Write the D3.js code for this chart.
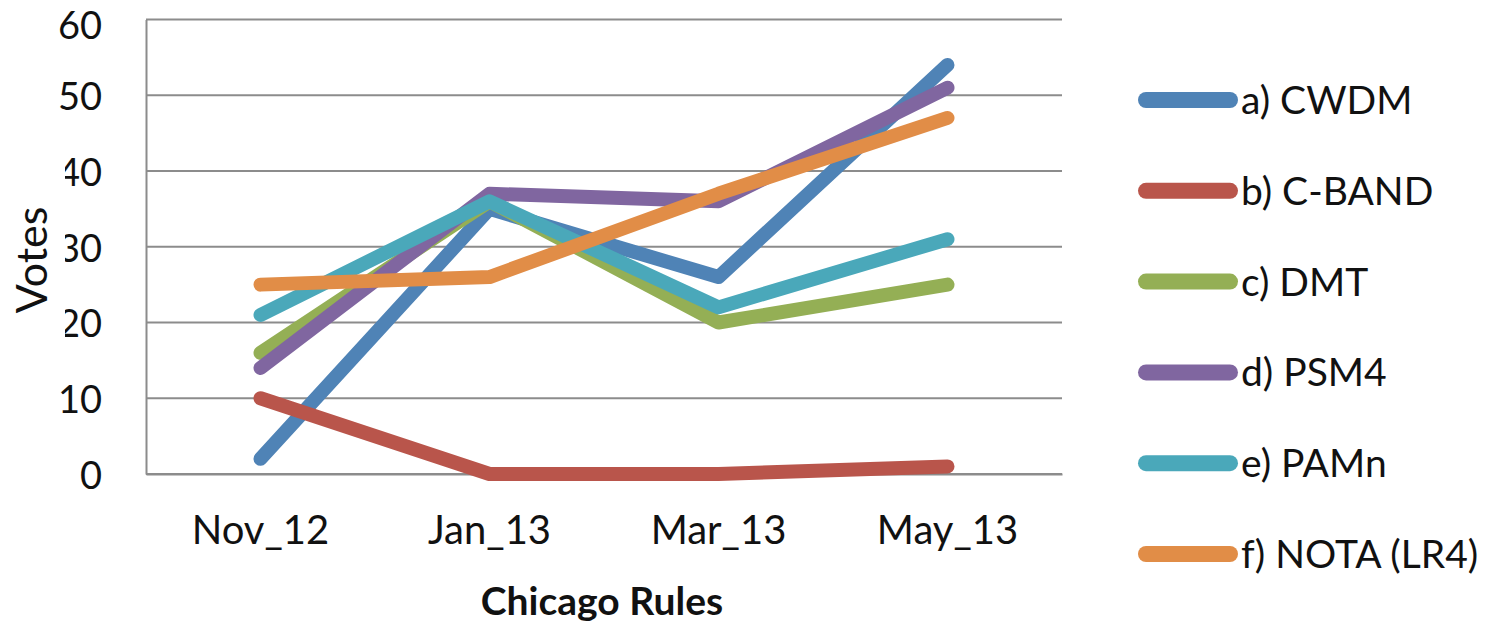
<!DOCTYPE html>
<html><head><meta charset="utf-8">
<script src="https://cdn.jsdelivr.net/npm/d3@7"></script>
<style>html,body{margin:0;padding:0;background:#fff;overflow:hidden}</style>
</head><body>
<svg id="chart" width="1494" height="627"></svg>
<script>
const categories = ["Nov_12", "Jan_13", "Mar_13", "May_13"];
const seriesNames = ["a) CWDM", "b) C-BAND", "c) DMT", "d) PSM4", "e) PAMn", "f) NOTA (LR4)"];
const cwdm  = [2, 35, 26, 54];
const cband = [10, 0, 0, 1];
const dmt   = [16, 36, 20, 25];
const psm4  = [14, 37, 36, 51];
const pamn  = [21, 36, 22, 31];
const nota  = [25, 26, 37, 47];
const yTicks = [0, 10, 20, 30, 40, 50, 60];
const colors = ["#4F83B6", "#B9554B", "#94AF55", "#8066A0", "#4AA8BA", "#E18D47"];
const seriesValues = [cwdm, cband, dmt, psm4, pamn, nota];

const font = "Lato, 'Open Sans', sans-serif";
const svg = d3.select("#chart");
const L = 146, R = 1062, T = 19.5, B = 474;

const x = d3.scaleBand().domain(categories).range([L, R]);
const y = d3.scaleLinear().domain([0, 60]).range([B, T]);

// gridlines
svg.append("g").selectAll("line").data(yTicks).join("line")
  .attr("x1", L).attr("x2", R)
  .attr("y1", d => y(d)).attr("y2", d => y(d))
  .attr("stroke", "#8c8c8c").attr("stroke-width", 2);

// y axis
const yAxis = svg.append("g").attr("transform", `translate(${L},0)`)
  .call(d3.axisLeft(y).tickValues(yTicks).tickSize(0).tickPadding(44));
yAxis.select(".domain").attr("stroke", "#8c8c8c").attr("stroke-width", 2);
yAxis.selectAll("text").attr("font-family", font).attr("font-size", 38).attr("fill", "#111")
  .attr("dy", d => d === 60 ? "0.5em" : "0.38em");

// x axis
const xAxis = svg.append("g").attr("transform", `translate(0,${B})`)
  .call(d3.axisBottom(x).tickSize(0).tickPadding(50));
xAxis.select(".domain").attr("stroke", "#8c8c8c").attr("stroke-width", 2);
xAxis.selectAll("text").attr("font-family", font).attr("font-size", 40).attr("fill", "#111")
  .attr("dy", "0.5em");

// white box of the y title covering part of tick labels
svg.append("rect").attr("x", 0).attr("y", 150).attr("width", 65).attr("height", 195).attr("fill", "#fff");
svg.append("text").attr("transform", `translate(47,260) rotate(-90)`)
  .attr("text-anchor", "middle").attr("font-family", font).attr("font-size", 43).attr("fill", "#111")
  .text("Votes");

svg.append("text").attr("x", (L + R) / 2 - 2).attr("y", 615)
  .attr("text-anchor", "middle").attr("font-family", font).attr("font-weight", "bold")
  .attr("font-size", 39).attr("fill", "#111").text("Chicago Rules");

// lines
const line = d3.line().x((d, i) => x(categories[i]) + x.bandwidth() / 2).y(d => y(d));
svg.append("g").selectAll("path").data(seriesValues).join("path")
  .attr("d", d => line(d))
  .attr("fill", "none")
  .attr("stroke", (d, i) => colors[i])
  .attr("stroke-width", 14)
  .attr("stroke-linecap", "round")
  .attr("stroke-linejoin", "round");

// legend
const leg = svg.append("g").selectAll("g").data(seriesNames).join("g")
  .attr("transform", (d, i) => `translate(0,${100 + i * 90.8})`);
leg.append("line").attr("x1", 1146).attr("x2", 1230).attr("y1", 0).attr("y2", 0)
  .attr("stroke", (d, i) => colors[i]).attr("stroke-width", 16).attr("stroke-linecap", "round");
leg.append("text").attr("x", 1241).attr("y", 0).attr("dy", "0.36em")
  .attr("font-family", font).attr("font-size", 39).attr("fill", "#111").text(d => d);
</script>
</body></html>
